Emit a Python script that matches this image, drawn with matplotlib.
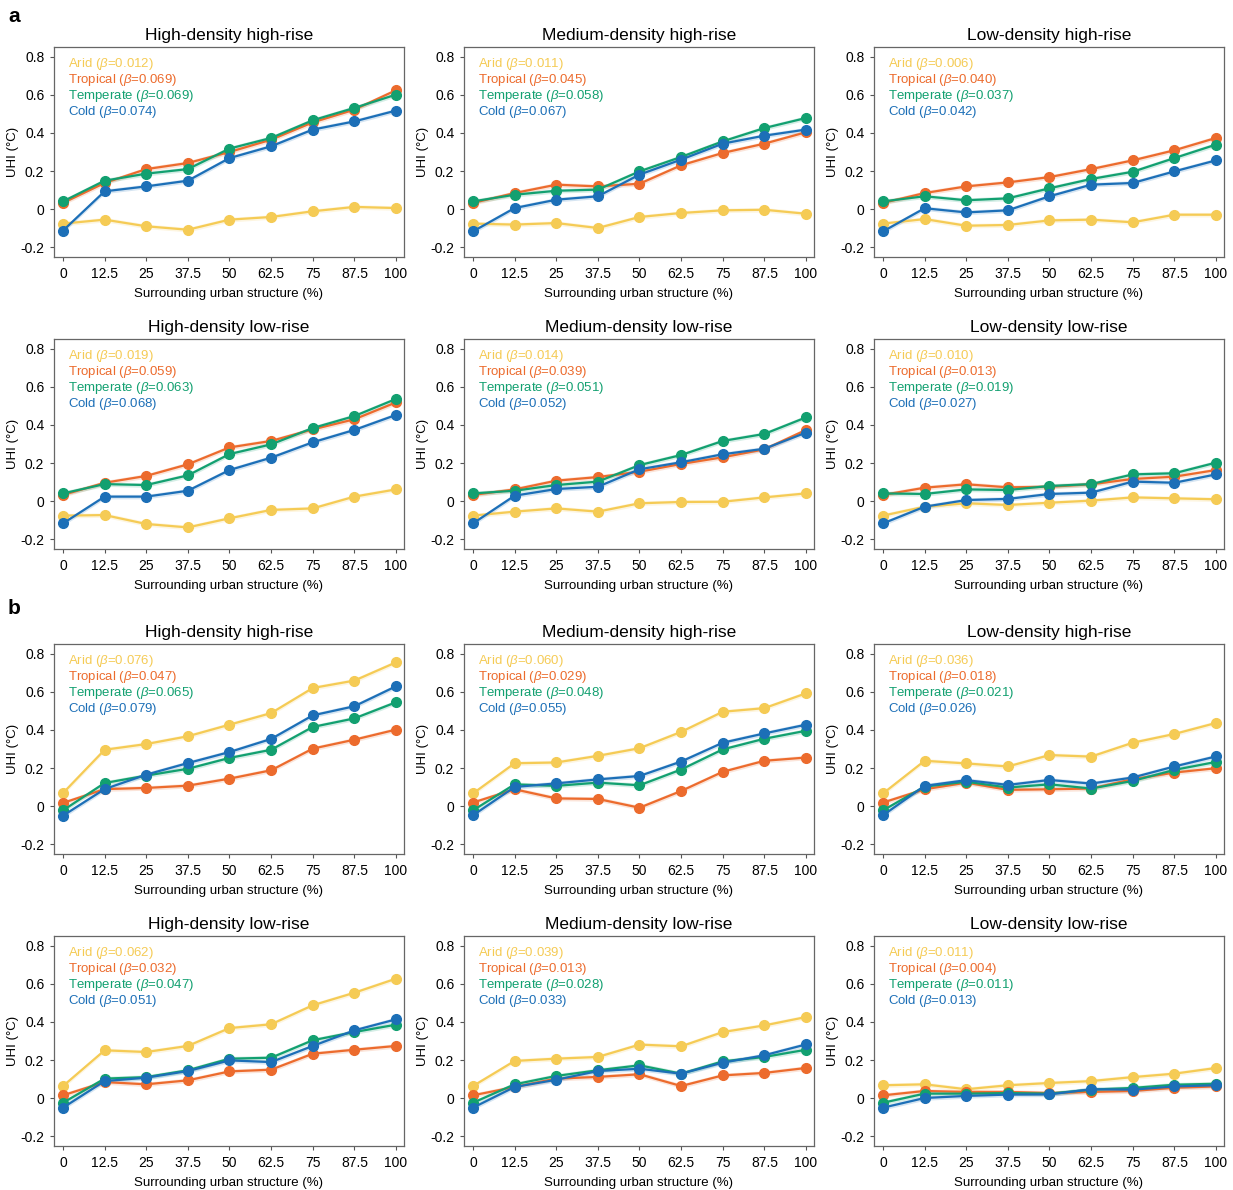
import numpy as np
import matplotlib
matplotlib.use("Agg")
import matplotlib.pyplot as plt

plt.rcParams["font.family"] = ["Liberation Sans", "DejaVu Sans"]
plt.rcParams["mathtext.fontset"] = "custom"
plt.rcParams["mathtext.it"] = "Liberation Sans:italic"
plt.rcParams["mathtext.rm"] = "Liberation Sans"

# ---------------- data ----------------
x_vals = [0, 12.5, 25, 37.5, 50, 62.5, 75, 87.5, 100]
x_labels = ["0", "12.5", "25", "37.5", "50", "62.5", "75", "87.5", "100"]
climates = ["Arid", "Tropical", "Temperate", "Cold"]
colors = ["#F5CB55", "#EC6B2D", "#12A070", "#1C6FB7"]
titles = ["High-density high-rise", "Medium-density high-rise", "Low-density high-rise",
          "High-density low-rise", "Medium-density low-rise", "Low-density low-rise"]

# panel a
a_arid = [
    [-0.077, -0.056, -0.091, -0.109, -0.056, -0.042, -0.012, 0.011, 0.005],
    [-0.077, -0.082, -0.074, -0.100, -0.042, -0.021, -0.007, -0.004, -0.025],
    [-0.077, -0.053, -0.088, -0.084, -0.060, -0.056, -0.070, -0.030, -0.030],
    [-0.077, -0.074, -0.121, -0.139, -0.091, -0.047, -0.039, 0.023, 0.061],
    [-0.077, -0.056, -0.039, -0.056, -0.012, -0.005, -0.004, 0.019, 0.040],
    [-0.077, -0.030, -0.012, -0.021, -0.009, 0.002, 0.019, 0.014, 0.009],
]
a_trop = [
    [0.032, 0.137, 0.210, 0.242, 0.300, 0.365, 0.456, 0.523, 0.625],
    [0.032, 0.084, 0.128, 0.119, 0.133, 0.230, 0.295, 0.344, 0.404],
    [0.032, 0.084, 0.119, 0.140, 0.168, 0.210, 0.256, 0.309, 0.374],
    [0.032, 0.096, 0.132, 0.193, 0.282, 0.316, 0.377, 0.430, 0.519],
    [0.032, 0.061, 0.107, 0.126, 0.154, 0.195, 0.230, 0.272, 0.374],
    [0.032, 0.070, 0.088, 0.072, 0.075, 0.088, 0.116, 0.128, 0.163],
]
a_temp = [
    [0.040, 0.149, 0.186, 0.210, 0.318, 0.374, 0.467, 0.532, 0.602],
    [0.040, 0.075, 0.096, 0.102, 0.198, 0.274, 0.356, 0.426, 0.479],
    [0.040, 0.067, 0.046, 0.056, 0.109, 0.158, 0.196, 0.268, 0.339],
    [0.040, 0.089, 0.084, 0.135, 0.247, 0.298, 0.384, 0.447, 0.537],
    [0.040, 0.054, 0.084, 0.102, 0.189, 0.242, 0.316, 0.353, 0.440],
    [0.040, 0.037, 0.061, 0.058, 0.079, 0.089, 0.140, 0.146, 0.202],
]
a_cold = [
    [-0.114, 0.093, 0.119, 0.149, 0.268, 0.330, 0.418, 0.461, 0.518],
    [-0.118, 0.005, 0.049, 0.067, 0.181, 0.260, 0.344, 0.386, 0.418],
    [-0.118, 0.004, -0.018, -0.007, 0.067, 0.128, 0.137, 0.198, 0.256],
    [-0.118, 0.023, 0.023, 0.054, 0.163, 0.228, 0.309, 0.374, 0.453],
    [-0.118, 0.028, 0.063, 0.075, 0.167, 0.204, 0.246, 0.275, 0.360],
    [-0.118, -0.030, 0.005, 0.011, 0.037, 0.044, 0.102, 0.096, 0.140],
]
a_beta = [
    ["0.012", "0.069", "0.069", "0.074"],
    ["0.011", "0.045", "0.058", "0.067"],
    ["0.006", "0.040", "0.037", "0.042"],
    ["0.019", "0.059", "0.063", "0.068"],
    ["0.014", "0.039", "0.051", "0.052"],
    ["0.010", "0.013", "0.019", "0.027"],
]

# panel b
b_arid = [
    [0.068, 0.296, 0.326, 0.367, 0.428, 0.489, 0.621, 0.660, 0.756],
    [0.066, 0.225, 0.229, 0.264, 0.304, 0.390, 0.496, 0.515, 0.593],
    [0.066, 0.238, 0.224, 0.208, 0.268, 0.260, 0.333, 0.379, 0.437],
    [0.063, 0.251, 0.242, 0.274, 0.368, 0.388, 0.488, 0.554, 0.628],
    [0.063, 0.195, 0.207, 0.216, 0.281, 0.272, 0.347, 0.382, 0.426],
    [0.067, 0.072, 0.046, 0.067, 0.079, 0.089, 0.110, 0.128, 0.158],
]
b_trop = [
    [0.016, 0.089, 0.095, 0.107, 0.144, 0.188, 0.302, 0.349, 0.402],
    [0.018, 0.088, 0.040, 0.037, -0.009, 0.079, 0.180, 0.238, 0.255],
    [0.018, 0.088, 0.123, 0.085, 0.088, 0.092, 0.141, 0.176, 0.199],
    [0.014, 0.084, 0.072, 0.093, 0.140, 0.149, 0.233, 0.254, 0.274],
    [0.014, 0.058, 0.102, 0.111, 0.125, 0.063, 0.119, 0.132, 0.158],
    [0.014, 0.037, 0.032, 0.032, 0.026, 0.032, 0.037, 0.054, 0.061],
]
b_temp = [
    [-0.023, 0.121, 0.160, 0.196, 0.253, 0.296, 0.416, 0.461, 0.546],
    [-0.023, 0.114, 0.106, 0.123, 0.109, 0.192, 0.298, 0.354, 0.396],
    [-0.023, 0.102, 0.128, 0.097, 0.114, 0.092, 0.132, 0.190, 0.232],
    [-0.025, 0.102, 0.110, 0.146, 0.207, 0.212, 0.304, 0.347, 0.386],
    [-0.025, 0.072, 0.116, 0.146, 0.172, 0.128, 0.193, 0.216, 0.254],
    [-0.025, 0.023, 0.023, 0.026, 0.023, 0.044, 0.053, 0.070, 0.075],
]
b_cold = [
    [-0.051, 0.089, 0.165, 0.226, 0.284, 0.353, 0.477, 0.525, 0.630],
    [-0.049, 0.100, 0.119, 0.140, 0.158, 0.234, 0.333, 0.382, 0.428],
    [-0.049, 0.106, 0.136, 0.111, 0.137, 0.118, 0.150, 0.208, 0.261],
    [-0.051, 0.089, 0.107, 0.142, 0.198, 0.189, 0.274, 0.356, 0.414],
    [-0.051, 0.058, 0.096, 0.142, 0.154, 0.128, 0.186, 0.225, 0.282],
    [-0.051, 0.000, 0.011, 0.018, 0.019, 0.046, 0.044, 0.061, 0.067],
]
b_beta = [
    ["0.076", "0.047", "0.065", "0.079"],
    ["0.060", "0.029", "0.048", "0.055"],
    ["0.036", "0.018", "0.021", "0.026"],
    ["0.062", "0.032", "0.047", "0.051"],
    ["0.039", "0.013", "0.028", "0.033"],
    ["0.011", "0.004", "0.011", "0.013"],
]

# ---------------- layout ----------------
W, H = 1233, 1190
fig = plt.figure(figsize=(W / 100, H / 100), dpi=100)

col_left = [54, 464, 874]
ax_w = 350
ax_h = 210
row_top = [47, 339, 644, 936]


def draw_panel(ax, series, betas, title):
    for k in range(4):
        y = np.array(series[k])
        ax.fill_between(x_vals, y - 0.012, y + 0.012, color=colors[k], alpha=0.18, lw=0, zorder=1)
        ax.plot(x_vals, y, color=colors[k], lw=1.6, marker="o", ms=7, zorder=2 + k)
        ax.text(0.04, 0.92 - k * 0.076, climates[k] + " ($\\beta$=" + betas[k] + ")",
                transform=ax.transAxes, color=colors[k], fontsize=9.5, va="center", ha="left")
    ax.set_xlim(-2.7, 102.4)
    ax.set_ylim(-0.2526, 0.8526)
    ax.set_xticks(x_vals)
    ax.set_xticklabels(x_labels)
    ax.set_yticks([-0.2, 0, 0.2, 0.4, 0.6, 0.8])
    ax.set_yticklabels(["-0.2", "0", "0.2", "0.4", "0.6", "0.8"])
    ax.tick_params(labelsize=10, length=3, width=0.8, color="#555555", pad=4)
    for s in ax.spines.values():
        s.set_color("#666666")
        s.set_linewidth(0.9)
    ax.set_xlabel("Surrounding urban structure (%)", fontsize=9.5, labelpad=5)
    ax.set_ylabel("UHI (°C)", fontsize=9.5, labelpad=1)
    ax.set_title(title, fontsize=12.5, pad=5)


groups = [(a_arid, a_trop, a_temp, a_cold, a_beta), (b_arid, b_trop, b_temp, b_cold, b_beta)]
for g, (ar, tr, te, co, be) in enumerate(groups):
    for i in range(6):
        r = g * 2 + i // 3
        c = i % 3
        left = col_left[c] / W
        bottom = 1 - (row_top[r] + ax_h) / H
        ax = fig.add_axes([left, bottom, ax_w / W, ax_h / H])
        draw_panel(ax, [ar[i], tr[i], te[i], co[i]], be[i], titles[i])

fig.text(8 / W, 1 - 17 / H, "a", fontsize=15, fontweight="bold", va="center")
fig.text(8 / W, 1 - 608 / H, "b", fontsize=15, fontweight="bold", va="center")

fig.savefig("out.png", dpi=100)
